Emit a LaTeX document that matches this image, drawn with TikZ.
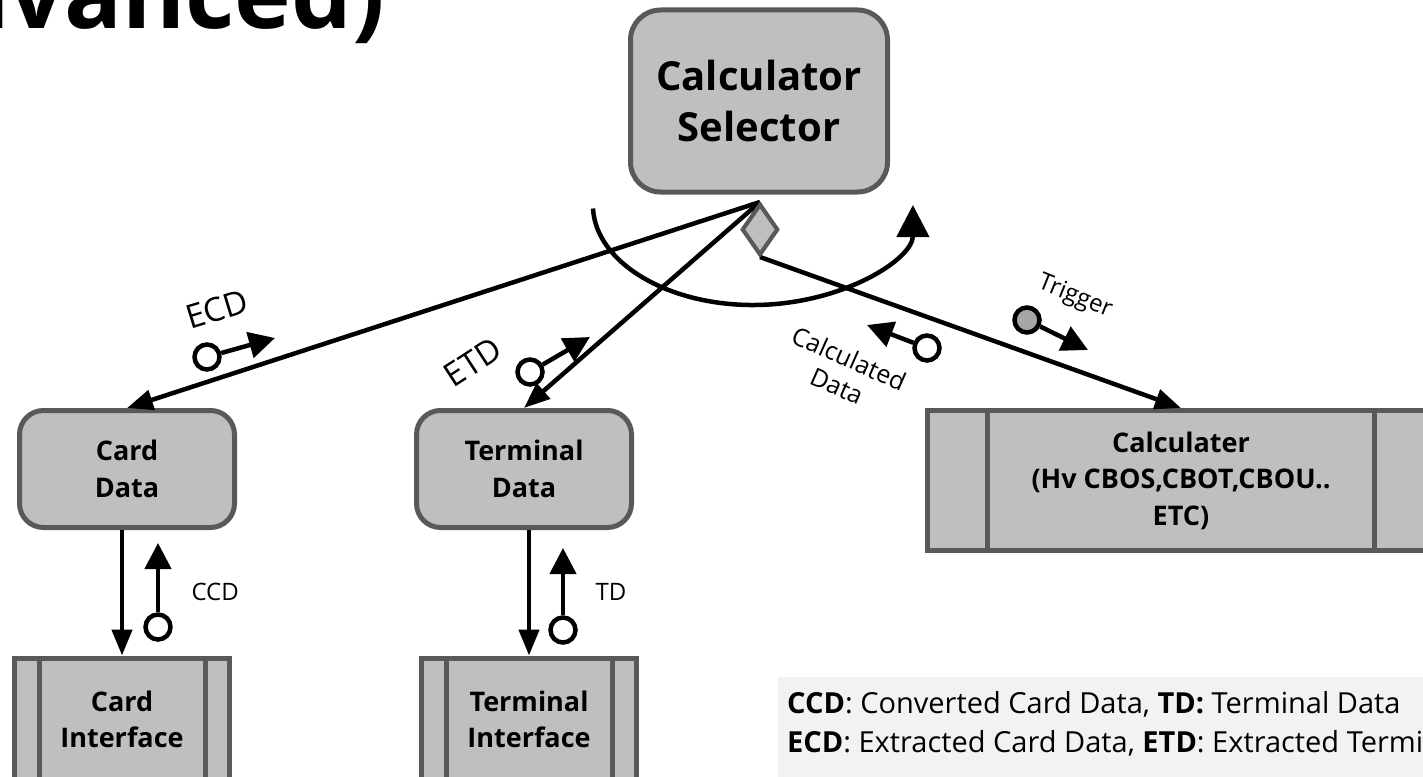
\documentclass[tikz,border=0pt]{standalone}
\usepackage{fontspec}
\setmainfont{Open Sans}
\usepackage{tikz}
\usetikzlibrary{shapes, arrows.meta, positioning, calc}
\definecolor{boxfill}{HTML}{BFBFBF}
\definecolor{boxline}{HTML}{595959}
\definecolor{legendbg}{HTML}{F2F2F2}
\definecolor{trigfill}{HTML}{A6A6A6}

\begin{document}
\begin{tikzpicture}[x=1pt,y=1pt,
    selbox/.style={draw=boxline,fill=boxfill,line width=5pt,rounded corners=30pt,inner sep=0pt,
      minimum width=257pt,minimum height=182pt,align=center,font=\bfseries\fontsize{40}{51}\selectfont},
    databox/.style={draw=boxline,fill=boxfill,line width=5pt,rounded corners=24pt,inner sep=0pt,
      minimum width=215pt,minimum height=117pt,align=center,font=\bfseries\fontsize{27}{37}\selectfont},
    ifbox/.style={draw=boxline,fill=boxfill,line width=5pt,inner sep=0pt,
      minimum width=215pt,minimum height=122pt,align=center,font=\bfseries\fontsize{27}{36}\selectfont},
    dia/.style={diamond,draw=boxline,fill=boxfill,line width=4pt,inner sep=0pt,
      minimum width=36pt,minimum height=51pt},
    conn/.style={line width=4.5pt,-{Triangle[length=26pt,width=20pt]}},
    port/.style={circle,draw,line width=4.5pt,fill=white,inner sep=0pt,minimum size=25pt},
    portarrow/.style={line width=4.5pt,-{Triangle[length=26pt,width=26pt]}},
    lbl/.style={font=\fontsize{24}{30}\selectfont,align=center},
    biglbl/.style={font=\fontsize{33}{36}\selectfont},
    legtext/.style={anchor=base west,inner sep=0pt,font=\fontsize{29}{34}\selectfont}]
  \clip (0,0) rectangle (1423,-776);

  % title, cut by the page
  \node[anchor=base east,inner sep=0pt,font=\bfseries\fontsize{96}{96}\selectfont] (title) at (385,-29) {dvanced)};

  % boxes
  \node[selbox] (sel) at (759,-101) {Calculator\\Selector};
  \node[databox] (card) at (127,-469) {Card\\Data};
  \node[databox] (term) at (524,-469) {Terminal\\Data};
  \node[ifbox] (cardif) at (122,-719) {Card\\Interface};
  \node[ifbox] (termif) at (529,-719) {Terminal\\Interface};
  \node[ifbox,minimum width=507pt,minimum height=140pt,font=\bfseries\fontsize{27}{36.5}\selectfont] (calc) at (1181,-480.5)
    {Calculater\\(Hv CBOS,CBOT,CBOU..\\ETC)};
  \foreach \b/\d in {cardif/27,termif/27,calc/62.5}{
    \draw[boxline,line width=5pt] ([xshift=\d pt]\b.north west) -- ([xshift=\d pt]\b.south west);
    \draw[boxline,line width=5pt] ([xshift=-\d pt]\b.north east) -- ([xshift=-\d pt]\b.south east);
  }

  \node[dia] (sw) at (760,-229.5) {};

  % connectors
  \draw[conn] (sw.north) -- (card.north);
  \draw[conn] (sw.north) -- (term.north);
  \draw[conn] (sw.south) -- (calc.north);
  \draw[conn] (card.south -| cardif.north) -- (cardif.north);
  \draw[conn] (term.south -| termif.north) -- (termif.north);
  \node[dia] at (sw) {};

  % loop round the selector
  \draw[line width=4.5pt,-{Triangle[length=32pt,width=32pt]}] (593,-208.5)
    arc[start angle=182,end angle=360,x radius=160,y radius=100];

  % data ports
  \node[port] (ecdp) at (207,-357) {};
  \coordinate (ecdt) at (275,-338);
  \draw[portarrow] (ecdp) -- (ecdt);
  \node[biglbl,rotate=17] (ecdl) at (217,-309) {ECD};

  \node[port] (etdp) at (530,-372) {};
  \coordinate (etdt) at (590,-337);
  \draw[portarrow] (etdp) -- (etdt);
  \node[biglbl,rotate=33] (etdl) at (473,-362) {ETD};

  \node[port] (calp) at (927,-348) {};
  \coordinate (calt) at (867,-325);
  \draw[portarrow] (calp) -- (calt);
  \node[lbl,rotate=-24,font=\fontsize{25}{30}\selectfont] (call) at (843,-372) {Calculated\\Data};

  \node[port,fill=trigfill] (trgp) at (1027,-320) {};
  \coordinate (trgt) at (1088,-350);
  \draw[portarrow] (trgp) -- (trgt);
  \node[lbl,rotate=-22] (trgl) at (1075,-297) {Trigger};

  \node[port] (ccdp) at (158,-627) {};
  \coordinate (ccdt) at (158,-543);
  \draw[portarrow] (ccdp) -- (ccdt);
  \node[lbl,anchor=west] (ccdl) at (188,-592) {CCD};

  \node[port] (tdp) at (563,-630) {};
  \coordinate (tdt) at (563,-548);
  \draw[portarrow] (tdp) -- (tdt);
  \node[lbl,anchor=west] (tdl) at (592,-592) {TD};

  % legend
  \fill[legendbg] (778,-677) rectangle (1430,-780);
  \node[legtext] (leg1) at (787,-713)
    {\textbf{CCD}: Converted Card Data, \textbf{TD:} Terminal Data};
  \node[legtext] (leg2) at (787,-752)
    {\textbf{ECD}: Extracted Card Data, \textbf{ETD}: Extracted Terminal Data};
\end{tikzpicture}
\end{document}
